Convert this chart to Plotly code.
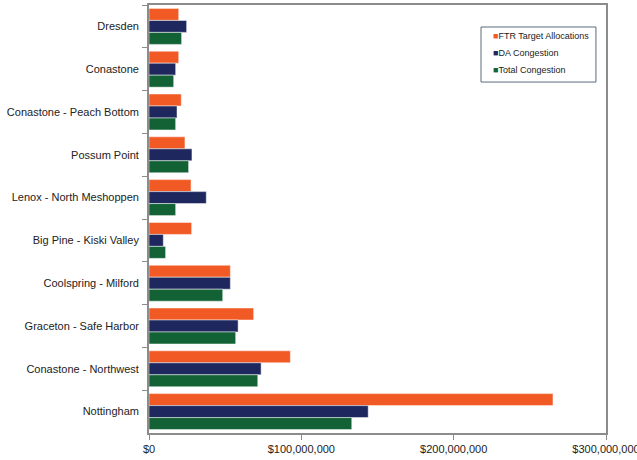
import plotly.graph_objects as go

categories = ["Dresden", "Conastone", "Conastone - Peach Bottom", "Possum Point",
              "Lenox - North Meshoppen", "Big Pine - Kiski Valley", "Coolspring - Milford",
              "Graceton - Safe Harbor", "Conastone - Northwest", "Nottingham"]
ftr = [19.5, 19.5, 21.2, 23.6, 27.6, 28.0, 53.4, 68.7, 92.8, 265.2]
da = [24.7, 17.5, 18.4, 28.2, 37.6, 9.4, 53.4, 58.5, 73.6, 143.9]
total = [21.4, 16.2, 17.5, 26.0, 17.5, 10.9, 48.4, 56.9, 71.4, 133.1]
series = [("FTR Target Allocations", ftr, "#F15A24"),
          ("DA Congestion", da, "#1F285E"),
          ("Total Congestion", total, "#136236")]
tick_vals = [0, 100e6, 200e6, 300e6]
tick_text = ["$0", "$100,000,000", "$200,000,000", "$300,000,000"]

fig = go.Figure()
for name, vals, color in series:
    fig.add_trace(go.Bar(
        y=categories, x=[v * 1e6 for v in vals], name=name, orientation="h",
        marker=dict(color=color, line=dict(color="rgba(255,255,255,0.6)", width=0.8)),
        showlegend=False,
    ))

# legend drawn as box + text entries
fig.add_shape(type="rect", xref="paper", yref="paper", x0=0.7265, x1=0.978, y0=0.820, y1=0.9486,
              line=dict(color="#5a6a7a", width=1), fillcolor="white", layer="above")
legend_y = [0.928, 0.887, 0.848]
for (name, vals, color), ly in zip(series, legend_y):
    fig.add_annotation(xref="paper", yref="paper", x=0.749, y=ly, xanchor="left", yanchor="middle",
                       showarrow=False, align="left",
                       text=f'<span style="color:{color}">■</span>{name}',
                       font=dict(size=9, color="#222222", family="Liberation Sans, Arial, sans-serif"))

fig.update_layout(
    width=637, height=460,
    margin=dict(l=149, r=31, t=5, b=27),
    barmode="group", bargap=0.16, bargroupgap=0,
    paper_bgcolor="white", plot_bgcolor="white",
    font=dict(family="Liberation Sans, Arial, sans-serif", size=11, color="#333333"),
    showlegend=False,
    xaxis=dict(range=[0, 300e6], tickvals=tick_vals, ticktext=tick_text, automargin=False,
               ticklabeloverflow="allow",
               showgrid=False, zeroline=False, showline=True, linecolor="#8c8c8c",
               linewidth=1.5, mirror=True, ticks="outside", ticklen=5, tickcolor="#8c8c8c",
               tickfont=dict(size=11, color="#222222")),
    yaxis=dict(autorange="reversed", showgrid=False, showline=True, linecolor="#8c8c8c",
               linewidth=1.5, mirror=True, ticks="outside", ticklen=5, tickcolor="#8c8c8c",
               tickson="boundaries", ticksuffix="  ", automargin=False,
               tickfont=dict(size=11, color="#222222")),
)
fig.write_html("out.html", config={"displayModeBar": False},
               post_script="document.body.style.margin='0';document.body.style.overflow='hidden';")
